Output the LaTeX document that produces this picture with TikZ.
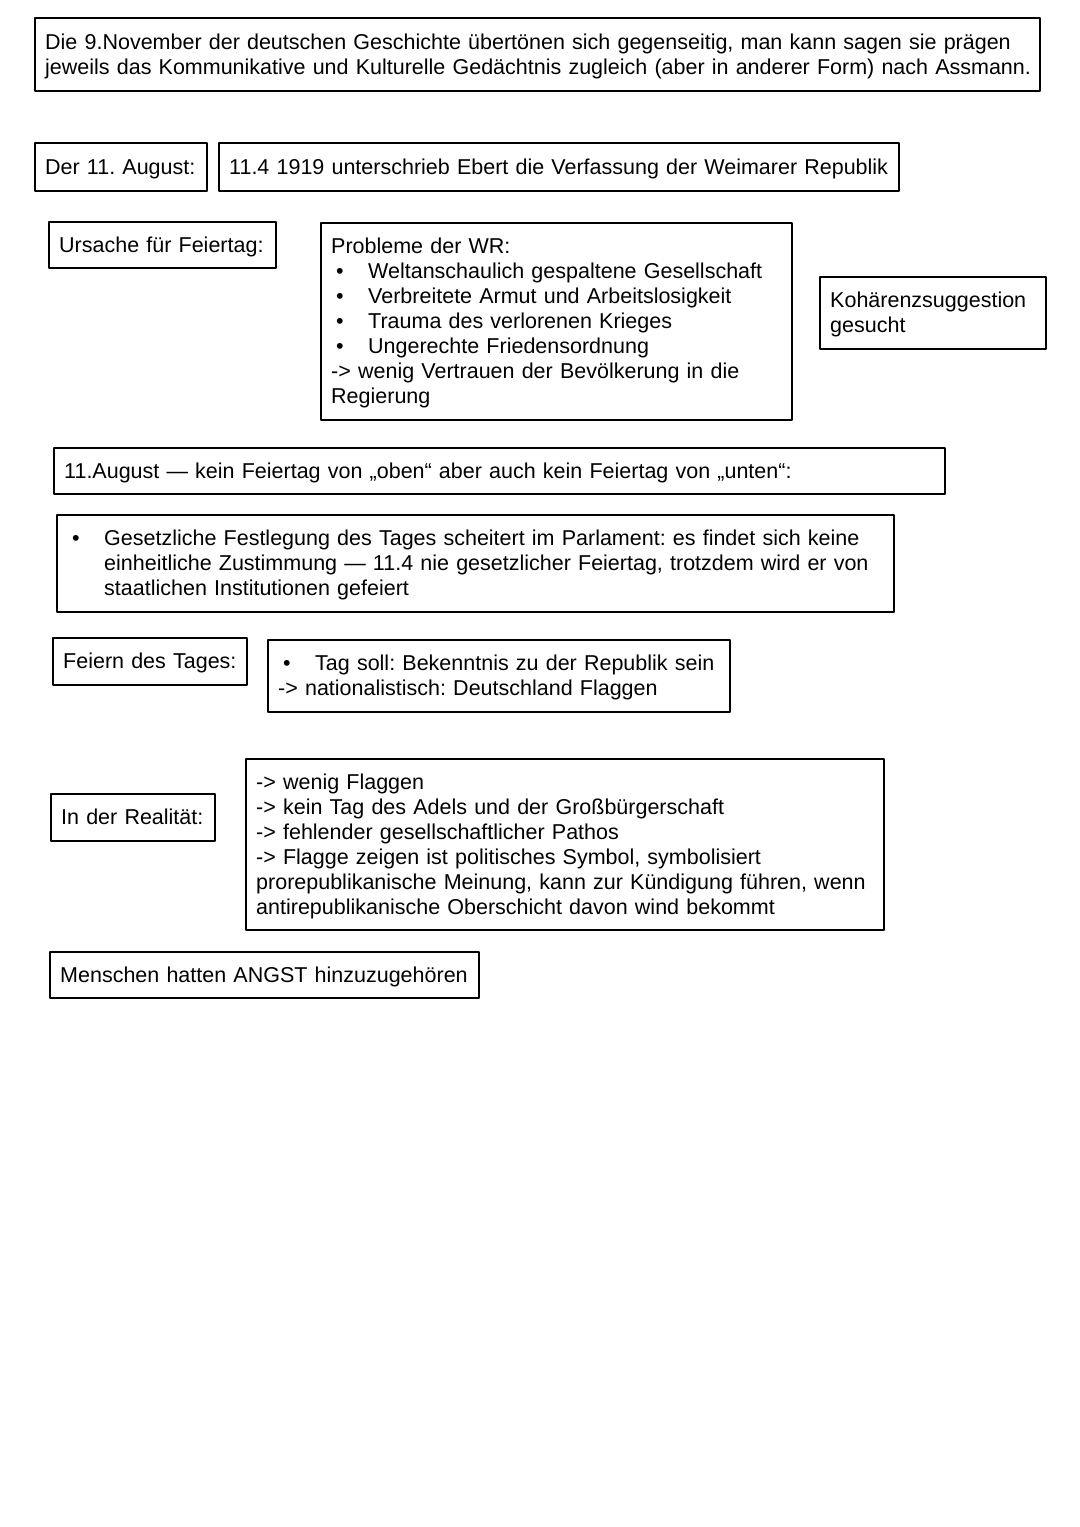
\documentclass[tikz,border=0pt]{standalone}
\usepackage{fontspec}
\setmainfont{Liberation Sans}
\frenchspacing

% one box of the notes page, sized in pixels of the page (x=0.5pt)
\tikzset{
    note/.style={draw, line width=1.2pt, anchor=north west, align=left,
        inner xsep=5pt, inner ysep=0pt, font=\fontsize{10.75}{12.5}\selectfont},
    boxsize/.code 2 args={%
        \pgfmathsetmacro\bw{#1*0.5}%
        \pgfmathsetmacro\bh{#2*0.5}%
        \pgfmathsetmacro\tw{#1*0.5-10}%
        \edef\boxnext{\noexpand\pgfkeysalso{minimum width=\bw pt,
            minimum height=\bh pt, text width=\tw pt}}\boxnext}
}
\newcommand{\lines}[1]{\begin{tabular}{@{}l@{}}\rule{0pt}{10.75pt}#1\end{tabular}}
\newcommand{\bul}{\hspace*{2.5pt}\makebox[16pt][l]{\textbullet}}
\newcommand{\hang}{\hspace*{18.5pt}}

\begin{document}
\begin{tikzpicture}[x=0.5pt, y=-0.5pt, line join=round]
    \useasboundingbox[fill=white] (0,0) rectangle (1080,1527);

    \node[note, boxsize={1005}{73}] (intro) at (34,17) {\lines{%
        Die 9.November der deutschen Geschichte übertönen sich gegenseitig, man kann sagen sie prägen\\
        jeweils das Kommunikative und Kulturelle Gedächtnis zugleich (aber in anderer Form) nach Assmann.}};

    \node[note, boxsize={172}{48}] (datum) at (34,142) {\lines{Der 11. August:}};
    \node[note, boxsize={680}{48}] (ebert) at (218,142) {\lines{11.4 1919 unterschrieb Ebert die Verfassung der Weimarer Republik}};

    \node[note, boxsize={227}{46}] (ursache) at (48,221) {\lines{Ursache für Feiertag:}};
    \node[note, boxsize={471}{197}] (probleme) at (320,222) {\lines{%
        Probleme der WR:\\
        \bul Weltanschaulich gespaltene Gesellschaft\\
        \bul Verbreitete Armut und Arbeitslosigkeit\\
        \bul Trauma des verlorenen Krieges\\
        \bul Ungerechte Friedensordnung\\
        -> wenig Vertrauen der Bevölkerung in die\\
        Regierung}};
    \node[note, boxsize={226}{72}] (kohaerenz) at (819,276) {\lines{Kohärenzsuggestion\\ gesucht}};

    \node[note, boxsize={891}{46}] (obenunten) at (53,447) {\lines{11.August — kein Feiertag von „oben“ aber auch kein Feiertag von „unten“:}};
    \node[note, boxsize={837}{97}] (gesetz) at (56,514) {\lines{%
        \bul Gesetzliche Festlegung des Tages scheitert im Parlament: es findet sich keine\\
        \hang einheitliche Zustimmung — 11.4 nie gesetzlicher Feiertag, trotzdem wird er von\\
        \hang staatlichen Institutionen gefeiert}};

    \node[note, boxsize={194}{47}] (feiern) at (52,637) {\lines{Feiern des Tages:}};
    \node[note, boxsize={462}{72}] (bekenntnis) at (267,639) {\lines{%
        \bul Tag soll: Bekenntnis zu der Republik sein\\
        -> nationalistisch: Deutschland Flaggen}};

    \node[note, boxsize={164}{47}] (realitaet) at (50,793) {\lines{In der Realität:}};
    \node[note, boxsize={638}{171}] (flaggen) at (245,758) {\lines{%
        -> wenig Flaggen\\
        -> kein Tag des Adels und der Großbürgerschaft\\
        -> fehlender gesellschaftlicher Pathos\\
        -> Flagge zeigen ist politisches Symbol, symbolisiert\\
        prorepublikanische Meinung, kann zur Kündigung führen, wenn\\
        antirepublikanische Oberschicht davon wind bekommt}};

    \node[note, boxsize={429}{46}] (angst) at (49,951) {\lines{Menschen hatten ANGST hinzuzugehören}};
\end{tikzpicture}
\end{document}
